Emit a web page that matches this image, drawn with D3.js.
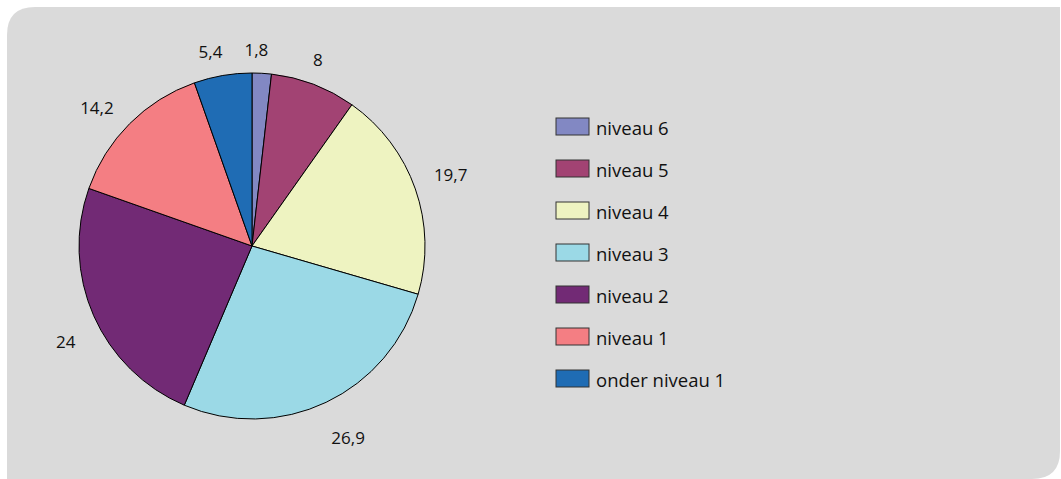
<!DOCTYPE html>
<html>
<head>
<meta charset="utf-8">
<script src="https://d3js.org/d3.v7.min.js"></script>
<style>
  body { margin: 0; background: #ffffff; }
  text { font-family: "Open Sans", sans-serif; fill: #111; }
</style>
</head>
<body>
<div id="the_chart"></div>
<script>
var categories = ["niveau 6", "niveau 5", "niveau 4", "niveau 3", "niveau 2", "niveau 1", "onder niveau 1"];
var values = [1.8, 8, 19.7, 26.9, 24, 14.2, 5.4];
var valueLabels = ["1,8", "8", "19,7", "26,9", "24", "14,2", "5,4"];
var colors = ["#8288c3", "#a24373", "#eef3c1", "#9bd9e6", "#722a75", "#f47e83", "#1f6cb4"];

var w = 1061, h = 479;
var svg = d3.select("#the_chart").append("svg")
            .attr("width", w).attr("height", h);

// grey panel, rounded top-left and bottom-right
var px0 = 7, py0 = 7, px1 = 1060, py1 = 479, rc = 28;
svg.append("path")
   .attr("d", "M" + px0 + "," + (py0 + rc) +
              " Q" + px0 + "," + py0 + " " + (px0 + rc) + "," + py0 +
              " L" + px1 + "," + py0 +
              " L" + px1 + "," + (py1 - rc) +
              " Q" + px1 + "," + py1 + " " + (px1 - rc) + "," + py1 +
              " L" + px0 + "," + py1 + " Z")
   .attr("fill", "#dadada");

var cx = 252, cy = 246, r = 173;
var data = values.map(function (v, i) {
  return { name: categories[i], value: v, label: valueLabels[i], color: colors[i] };
});

var pie = d3.pie().sort(null).value(function (d) { return d.value; });
var arc = d3.arc().innerRadius(0).outerRadius(r);
var arcs = pie(data);

var g = svg.append("g").attr("transform", "translate(" + cx + "," + cy + ")");
g.selectAll("path.slice")
 .data(arcs)
 .enter().append("path")
 .attr("class", "slice")
 .attr("d", arc)
 .attr("fill", function (d) { return d.data.color; })
 .attr("stroke", "#000")
 .attr("stroke-width", 1);

// value labels outside the pie (slightly lowered and turned, like the original)
var gap = 22, labelDy = 6, labelTurn = -2 * Math.PI / 180;
g.selectAll("text.val")
 .data(arcs)
 .enter().append("text")
 .attr("class", "val")
 .attr("font-size", "17px")
 .attr("text-anchor", "middle")
 .attr("dominant-baseline", "central")
 .text(function (d) { return d.data.label; })
 .each(function (d) {
   var a = (d.startAngle + d.endAngle) / 2 + labelTurn;
   var hw = this.getComputedTextLength() / 2, hh = 7;
   var dist = r + gap + Math.abs(hw * Math.sin(a)) + Math.abs(hh * Math.cos(a));
   d3.select(this)
     .attr("x", dist * Math.sin(a))
     .attr("y", -dist * Math.cos(a) + labelDy);
 });

// legend
var legend = svg.append("g").attr("transform", "translate(556,118)");
var rows = legend.selectAll("g")
 .data(data)
 .enter().append("g")
 .attr("transform", function (d, i) { return "translate(0," + (i * 42) + ")"; });
rows.append("rect")
 .attr("width", 33).attr("height", 17)
 .attr("fill", function (d) { return d.color; })
 .attr("stroke", "#333").attr("stroke-width", 1);
rows.append("text")
 .attr("x", 40).attr("y", 9)
 .attr("font-size", "18.5px")
 .attr("dominant-baseline", "central")
 .text(function (d) { return d.name; });
</script>
</body>
</html>
